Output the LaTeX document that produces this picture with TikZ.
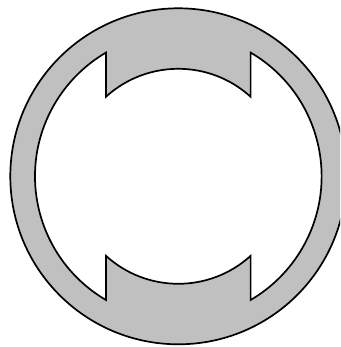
\documentclass[tikz,border=0pt]{standalone}
\usetikzlibrary{calc}
\definecolor{ringgray}{RGB}{192,192,192}
\begin{document}
\begin{tikzpicture}[x=1pt,y=1pt,line join=miter]
\useasboundingbox (0,0) rectangle (340,347);
\clip (0,0) rectangle (340,347);
\coordinate (C) at (178.3,170.7);
\def\hw{72.3}
\def\Ro{168}
\def\Ri{143.3}
\def\Rt{107.5}
\pgfmathsetmacro\aa{acos(\hw/\Ri)}
\pgfmathsetmacro\bb{acos(\hw/\Rt)}
\draw[line width=1.7pt, fill=ringgray, even odd rule]
  (C) circle (\Ro)
  ($(C)+(180-\aa:\Ri)$) -- ($(C)+(180-\bb:\Rt)$)
  arc[start angle=180-\bb, end angle=\bb, radius=\Rt]
  -- ($(C)+(\aa:\Ri)$)
  arc[start angle=\aa, end angle=-\aa, radius=\Ri]
  -- ($(C)+(-\bb:\Rt)$)
  arc[start angle=-\bb, end angle=-180+\bb, radius=\Rt]
  -- ($(C)+(-180+\aa:\Ri)$)
  arc[start angle=180+\aa, end angle=180-\aa, radius=\Ri]
  -- cycle;
\end{tikzpicture}
\end{document}
